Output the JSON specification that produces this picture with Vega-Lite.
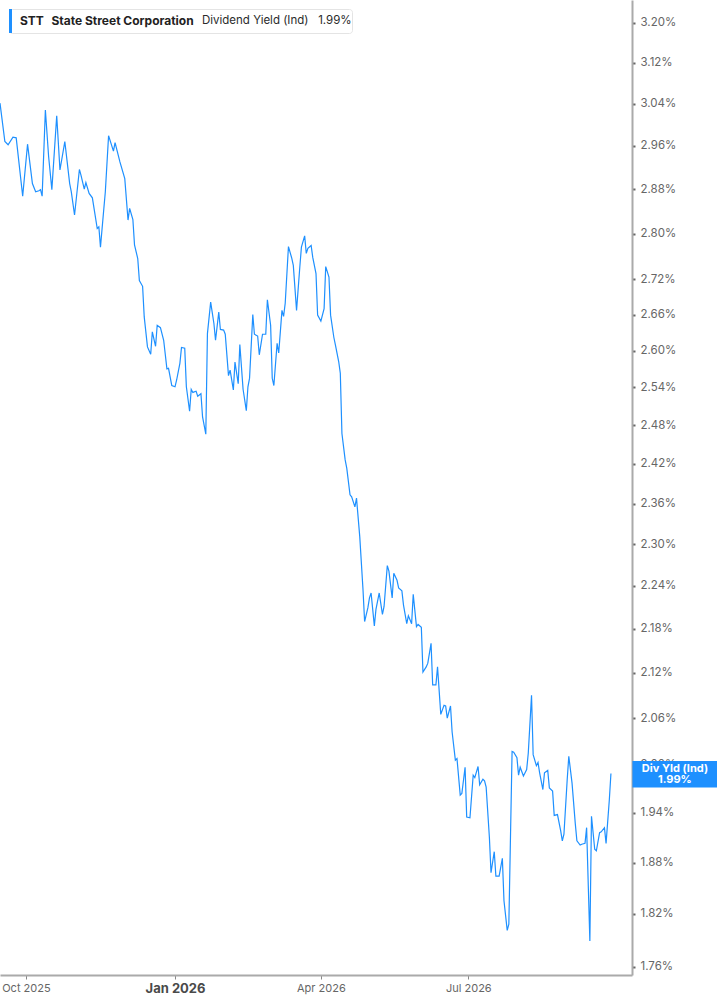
{
  "$schema": "https://vega.github.io/schema/vega-lite/v6.json",
  "width": 632,
  "height": 975,
  "autosize": {"type": "none"},
  "padding": {"left": 0, "top": 0, "right": 85, "bottom": 30},
  "background": "white",
  "config": {"view": {"stroke": null}, "font": "Inter"},
  "datasets": {
    "yield": [
      {"date":"2025-09-15","value":3.041},{"date":"2025-09-18","value":2.968},{"date":"2025-09-20","value":2.962},{"date":"2025-09-23","value":2.976},{"date":"2025-09-25","value":2.975},
      {"date":"2025-09-29","value":2.867},{"date":"2025-10-02","value":2.963},{"date":"2025-10-05","value":2.890},{"date":"2025-10-07","value":2.875},{"date":"2025-10-09","value":2.877},
      {"date":"2025-10-10","value":2.879},{"date":"2025-10-11","value":2.867},{"date":"2025-10-13","value":3.028},{"date":"2025-10-15","value":2.940},{"date":"2025-10-17","value":2.879},
      {"date":"2025-10-20","value":3.017},{"date":"2025-10-22","value":2.915},{"date":"2025-10-25","value":2.968},{"date":"2025-10-28","value":2.890},{"date":"2025-10-29","value":2.875},
      {"date":"2025-10-31","value":2.833},{"date":"2025-11-03","value":2.916},{"date":"2025-11-04","value":2.905},{"date":"2025-11-06","value":2.880},{"date":"2025-11-07","value":2.892},
      {"date":"2025-11-09","value":2.872},{"date":"2025-11-11","value":2.864},{"date":"2025-11-14","value":2.809},{"date":"2025-11-15","value":2.812},{"date":"2025-11-16","value":2.776},
      {"date":"2025-11-18","value":2.842},{"date":"2025-11-19","value":2.875},{"date":"2025-11-21","value":2.979},{"date":"2025-11-24","value":2.950},{"date":"2025-11-25","value":2.966},
      {"date":"2025-11-28","value":2.930},{"date":"2025-12-01","value":2.899},{"date":"2025-12-03","value":2.824},{"date":"2025-12-04","value":2.845},{"date":"2025-12-06","value":2.825},
      {"date":"2025-12-07","value":2.780},{"date":"2025-12-09","value":2.756},{"date":"2025-12-10","value":2.718},{"date":"2025-12-12","value":2.708},{"date":"2025-12-13","value":2.656},
      {"date":"2025-12-15","value":2.606},{"date":"2025-12-17","value":2.594},{"date":"2025-12-18","value":2.631},{"date":"2025-12-20","value":2.607},{"date":"2025-12-21","value":2.642},
      {"date":"2025-12-23","value":2.638},{"date":"2025-12-25","value":2.617},{"date":"2025-12-27","value":2.570},{"date":"2025-12-28","value":2.571},{"date":"2025-12-30","value":2.543},
      {"date":"2026-01-01","value":2.541},{"date":"2026-01-02","value":2.552},{"date":"2026-01-04","value":2.579},{"date":"2026-01-05","value":2.605},{"date":"2026-01-07","value":2.604},
      {"date":"2026-01-08","value":2.541},{"date":"2026-01-10","value":2.502},{"date":"2026-01-11","value":2.537},{"date":"2026-01-12","value":2.532},{"date":"2026-01-14","value":2.534},
      {"date":"2026-01-15","value":2.526},{"date":"2026-01-17","value":2.530},{"date":"2026-01-18","value":2.493},{"date":"2026-01-20","value":2.466},{"date":"2026-01-21","value":2.628},
      {"date":"2026-01-23","value":2.681},{"date":"2026-01-25","value":2.645},{"date":"2026-01-26","value":2.617},{"date":"2026-01-28","value":2.664},{"date":"2026-01-29","value":2.635},
      {"date":"2026-01-31","value":2.634},{"date":"2026-02-01","value":2.627},{"date":"2026-02-03","value":2.559},{"date":"2026-02-04","value":2.568},{"date":"2026-02-06","value":2.536},
      {"date":"2026-02-07","value":2.581},{"date":"2026-02-09","value":2.546},{"date":"2026-02-10","value":2.610},{"date":"2026-02-12","value":2.537},{"date":"2026-02-14","value":2.503},
      {"date":"2026-02-15","value":2.541},{"date":"2026-02-16","value":2.555},{"date":"2026-02-18","value":2.660},{"date":"2026-02-19","value":2.627},{"date":"2026-02-21","value":2.624},
      {"date":"2026-02-22","value":2.593},{"date":"2026-02-24","value":2.627},{"date":"2026-02-26","value":2.627},{"date":"2026-02-27","value":2.685},{"date":"2026-03-01","value":2.642},
      {"date":"2026-03-02","value":2.555},{"date":"2026-03-03","value":2.543},{"date":"2026-03-05","value":2.612},{"date":"2026-03-06","value":2.596},{"date":"2026-03-08","value":2.667},
      {"date":"2026-03-09","value":2.657},{"date":"2026-03-10","value":2.679},{"date":"2026-03-12","value":2.777},{"date":"2026-03-14","value":2.757},{"date":"2026-03-15","value":2.744},
      {"date":"2026-03-17","value":2.667},{"date":"2026-03-19","value":2.741},{"date":"2026-03-20","value":2.776},{"date":"2026-03-22","value":2.796},{"date":"2026-03-23","value":2.765},
      {"date":"2026-03-24","value":2.774},{"date":"2026-03-26","value":2.779},{"date":"2026-03-27","value":2.758},{"date":"2026-03-29","value":2.730},{"date":"2026-03-30","value":2.659},
      {"date":"2026-04-01","value":2.649},{"date":"2026-04-03","value":2.670},{"date":"2026-04-04","value":2.742},{"date":"2026-04-06","value":2.724},{"date":"2026-04-07","value":2.659},
      {"date":"2026-04-09","value":2.622},{"date":"2026-04-10","value":2.609},{"date":"2026-04-12","value":2.582},{"date":"2026-04-13","value":2.563},{"date":"2026-04-14","value":2.467},
      {"date":"2026-04-16","value":2.426},{"date":"2026-04-17","value":2.413},{"date":"2026-04-19","value":2.373},{"date":"2026-04-20","value":2.370},{"date":"2026-04-22","value":2.355},
      {"date":"2026-04-23","value":2.368},{"date":"2026-04-25","value":2.311},{"date":"2026-04-27","value":2.235},{"date":"2026-04-28","value":2.190},{"date":"2026-04-30","value":2.209},
      {"date":"2026-05-01","value":2.223},{"date":"2026-05-02","value":2.230},{"date":"2026-05-04","value":2.184},{"date":"2026-05-05","value":2.207},{"date":"2026-05-07","value":2.230},
      {"date":"2026-05-09","value":2.200},{"date":"2026-05-10","value":2.211},{"date":"2026-05-12","value":2.269},{"date":"2026-05-13","value":2.261},{"date":"2026-05-15","value":2.223},
      {"date":"2026-05-16","value":2.258},{"date":"2026-05-18","value":2.248},{"date":"2026-05-19","value":2.237},{"date":"2026-05-21","value":2.233},{"date":"2026-05-22","value":2.213},
      {"date":"2026-05-24","value":2.187},{"date":"2026-05-25","value":2.198},{"date":"2026-05-27","value":2.187},{"date":"2026-05-28","value":2.228},{"date":"2026-05-30","value":2.183},
      {"date":"2026-05-31","value":2.186},{"date":"2026-06-02","value":2.182},{"date":"2026-06-03","value":2.121},{"date":"2026-06-05","value":2.128},{"date":"2026-06-06","value":2.133},
      {"date":"2026-06-08","value":2.160},{"date":"2026-06-09","value":2.104},{"date":"2026-06-11","value":2.104},{"date":"2026-06-12","value":2.128},{"date":"2026-06-14","value":2.065},
      {"date":"2026-06-16","value":2.077},{"date":"2026-06-17","value":2.076},{"date":"2026-06-18","value":2.060},{"date":"2026-06-20","value":2.076},{"date":"2026-06-21","value":2.042},
      {"date":"2026-06-23","value":2.006},{"date":"2026-06-24","value":2.008},{"date":"2026-06-26","value":1.962},{"date":"2026-06-27","value":1.964},{"date":"2026-06-29","value":1.997},
      {"date":"2026-06-30","value":1.935},{"date":"2026-07-02","value":1.934},{"date":"2026-07-04","value":1.987},{"date":"2026-07-05","value":1.984},{"date":"2026-07-07","value":1.998},
      {"date":"2026-07-08","value":1.975},{"date":"2026-07-10","value":1.982},{"date":"2026-07-11","value":1.980},{"date":"2026-07-12","value":1.972},{"date":"2026-07-14","value":1.910},
      {"date":"2026-07-15","value":1.868},{"date":"2026-07-17","value":1.893},{"date":"2026-07-18","value":1.864},{"date":"2026-07-20","value":1.864},{"date":"2026-07-22","value":1.885},
      {"date":"2026-07-23","value":1.835},{"date":"2026-07-25","value":1.801},{"date":"2026-07-26","value":1.808},{"date":"2026-07-28","value":2.017},{"date":"2026-07-29","value":2.016},
      {"date":"2026-07-31","value":2.009},{"date":"2026-08-01","value":1.987},{"date":"2026-08-02","value":1.997},{"date":"2026-08-04","value":1.986},{"date":"2026-08-06","value":1.994},
      {"date":"2026-08-07","value":2.015},{"date":"2026-08-09","value":2.090},{"date":"2026-08-10","value":2.013},{"date":"2026-08-12","value":1.999},{"date":"2026-08-13","value":2.003},
      {"date":"2026-08-14","value":1.990},{"date":"2026-08-16","value":1.969},{"date":"2026-08-17","value":1.990},{"date":"2026-08-19","value":1.993},{"date":"2026-08-20","value":1.971},
      {"date":"2026-08-22","value":1.967},{"date":"2026-08-23","value":1.937},{"date":"2026-08-25","value":1.938},{"date":"2026-08-27","value":1.918},{"date":"2026-08-28","value":1.906},
      {"date":"2026-08-29","value":1.914},{"date":"2026-08-31","value":1.981},{"date":"2026-09-01","value":2.011},{"date":"2026-09-03","value":1.977},{"date":"2026-09-05","value":1.927},
      {"date":"2026-09-06","value":1.906},{"date":"2026-09-08","value":1.901},{"date":"2026-09-09","value":1.902},{"date":"2026-09-11","value":1.903},{"date":"2026-09-12","value":1.922},
      {"date":"2026-09-14","value":1.789},{"date":"2026-09-15","value":1.936},{"date":"2026-09-17","value":1.896},{"date":"2026-09-18","value":1.894},{"date":"2026-09-20","value":1.916},
      {"date":"2026-09-21","value":1.917},{"date":"2026-09-23","value":1.922},{"date":"2026-09-24","value":1.903},{"date":"2026-09-26","value":1.956},{"date":"2026-09-27","value":1.989}
    ],
    "last": [
      {"date":"2026-09-27","value":1.99,"label":"Div Yld (Ind)\n1.99%"}
    ]
  },
  "encoding": {
    "x": {
      "field": "date", "type": "temporal",
      "scale": {"domain": [{"year":2025,"month":9,"date":15},{"year":2026,"month":10,"date":10}], "nice": false},
      "axis": {
        "title": null, "grid": false, "orient": "bottom",
        "values": [{"year":2025,"month":10,"date":1},{"year":2026,"month":1,"date":1},{"year":2026,"month":4,"date":1},{"year":2026,"month":7,"date":1}],
        "format": "%b %Y",
        "domainColor": "#aaaaaa", "domainWidth": 2,
        "tickColor": "#888888", "tickSize": 4, "tickWidth": 1,
        "labelPadding": 3, "labelFont": "Inter",
        "labelFontSize": {"condition": {"test": "month(datum.value) === 0", "value": 13}, "value": 11},
        "labelFontWeight": {"condition": {"test": "month(datum.value) === 0", "value": "bold"}, "value": "normal"},
        "labelColor": {"condition": {"test": "month(datum.value) === 0", "value": "#4a4a4a"}, "value": "#666666"},
        "labelOverlap": false, "labelFlush": false
      }
    },
    "y": {
      "field": "value", "type": "quantitative",
      "scale": {"type": "log", "domain": [1.7508, 3.2463], "nice": false},
      "axis": {
        "title": null, "grid": false, "orient": "right",
        "values": [1.76,1.82,1.88,1.94,2.00,2.06,2.12,2.18,2.24,2.30,2.36,2.42,2.48,2.54,2.60,2.66,2.72,2.80,2.88,2.96,3.04,3.12,3.20],
        "labelExpr": "format(datum.value, '.2f') + '%'",
        "domainColor": "#aaaaaa", "domainWidth": 2,
        "tickColor": "#666666", "tickSize": 3, "tickWidth": 2,
        "labelPadding": 5, "labelFont": "Inter", "labelFontSize": 11.5, "labelColor": "#666666",
        "labelOverlap": false
      }
    }
  },
  "layer": [
    {
      "data": {"name": "yield"},
      "mark": {"type": "line", "strokeWidth": 1.2, "interpolate": "linear"},
      "encoding": {
        "color": {
          "datum": "STT\u00a0\u00a0\u2009State Street Corporation",
          "type": "nominal",
          "scale": {"range": ["#1e90ff"]},
          "legend": {
            "orient": "top-left", "offset": 9, "padding": 0,
            "title": "Dividend Yield (Ind)\u00a0\u00a0\u00a01.99%\u00a0",
            "titleOrient": "right", "titleFont": "Inter", "titleFontSize": 11.5, "titleFontWeight": "normal", "titleColor": "#2b2b2b",
            "titlePadding": 8, "titleLimit": 400, "titleBaseline": "middle", "titleAnchor": "middle",
            "labelFont": "Inter", "labelFontSize": 12, "labelFontWeight": "bold", "labelColor": "#222222", "labelLimit": 400, "labelOffset": -13,
            "symbolType": "M-1,-1H-0.75V1H-1Z", "symbolSize": 576,
            "fillColor": "#ffffff", "strokeColor": "#e4e4e4", "cornerRadius": 3,
            "encode": {"symbols": {"update": {"fill": {"value": "#1e90ff"}, "stroke": {"value": "#1e90ff"}, "strokeWidth": {"value": 0}}}}
          }
        }
      }
    },
    {
      "data": {"name": "last"},
      "mark": {"type": "point", "shape": "M-1,-0.31H1V0.31H-1Z", "size": 7225, "filled": true, "fill": "#1e90ff", "opacity": 1, "strokeWidth": 0, "xOffset": 64, "yOffset": 1.5}
    },
    {
      "data": {"name": "last"},
      "mark": {"type": "text", "dx": 64, "dy": -4, "align": "center", "baseline": "middle", "lineBreak": "\n", "lineHeight": 11, "font": "Inter", "fontSize": 11, "fontWeight": "bold", "color": "white"},
      "encoding": {"text": {"field": "label"}}
    }
  ]
}
